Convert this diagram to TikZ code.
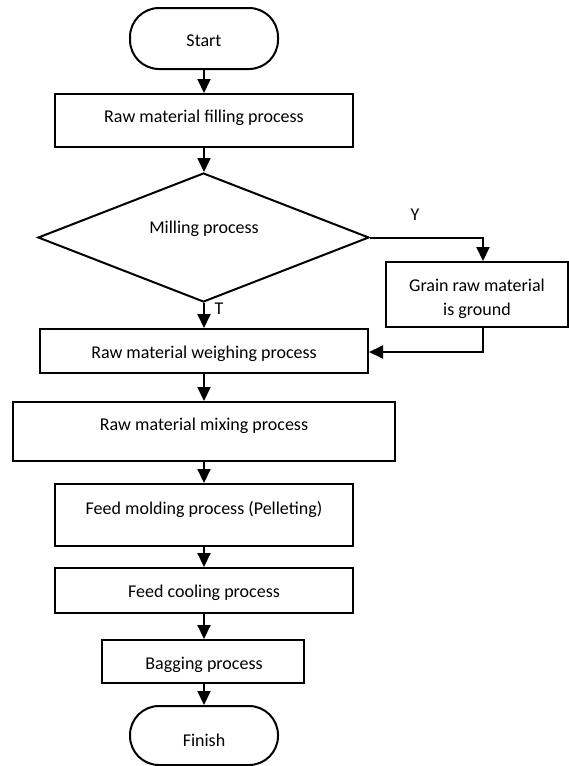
\documentclass[tikz,border=0pt]{standalone}
\usepackage{fontspec}
\setmainfont{Carlito}
\usetikzlibrary{shapes.geometric,arrows.meta}
\begin{document}
\begin{tikzpicture}[x=1pt,y=-1pt,
  box/.style={draw,line width=2pt,rectangle,inner sep=0pt},
  term/.style={draw,line width=2pt,rectangle,rounded corners=29pt,inner sep=0pt,minimum width=148pt},
  dec/.style={draw,line width=2pt,diamond,inner sep=0pt,minimum width=331pt,minimum height=129pt},
  txt/.style={anchor=base,inner sep=0pt,font=\fontsize{18}{22}\selectfont},
  flow/.style={line width=2pt,-{Triangle[length=14pt,width=13pt]}}]
\useasboundingbox (0,0) rectangle (569,766);
% shapes
\node[term,minimum height=61pt] (start) at (204,38.5) {};
\node[box,minimum width=298pt,minimum height=53pt] (fill) at (204,120.5) {};
\node[dec] (mill) at (203.5,237.5) {};
\node[box,minimum width=182pt,minimum height=65pt] (grain) at (477,294.5) {};
\node[box,minimum width=328pt,minimum height=44pt] (weigh) at (204,351) {};
\node[box,minimum width=382pt,minimum height=59pt] (mix) at (204,431.5) {};
\node[box,minimum width=298pt,minimum height=62pt] (mold) at (204,515) {};
\node[box,minimum width=298pt,minimum height=45pt] (cool) at (204,590.5) {};
\node[box,minimum width=202pt,minimum height=43pt] (bag) at (203,661.5) {};
\node[term,minimum height=59pt] (finish) at (204,735.5) {};
% texts
\node[txt] (tstart) at (204,46.7) {Start};
\node[txt] (tfill) at (204,122.7) {Raw material filling process};
\node[txt] (tmill) at (204,233.3) {Milling process};
\node[txt] (tgrain1) at (477,291.7) {Grain raw material};
\node[txt] (tgrain2) at (477,315) {is ground};
\node[txt] (tweigh) at (204,358.3) {Raw material weighing process};
\node[txt] (tmix) at (204,430) {Raw material mixing process};
\node[txt] (tmold) at (204,514.3) {Feed molding process (Pelleting)};
\node[txt] (tcool) at (204,597.7) {Feed cooling process};
\node[txt] (tbag) at (204,669.3) {Bagging process};
\node[txt] (tfinish) at (204,746) {Finish};
\node[txt] (ly) at (415,220) {Y};
\node[txt] (lt) at (219,314) {T};
% connectors
\coordinate (cx) at (204,0);
\draw[flow] (cx |- start.south) -- (cx |- fill.north);
\draw[flow] (cx |- fill.south) -- (cx |- mill.north);
\draw[flow] (cx |- mill.south) -- (cx |- weigh.north);
\draw[flow] (cx |- weigh.south) -- (cx |- mix.north);
\draw[flow] (cx |- mix.south) -- (cx |- mold.north);
\draw[flow] (cx |- mold.south) -- (cx |- cool.north);
\draw[flow] (cx |- cool.south) -- (cx |- bag.north);
\draw[flow] (cx |- bag.south) -- (cx |- finish.north);
\coordinate (gx) at (483,0);
\draw[flow] (mill.east) -- (mill.east -| gx) -- (gx |- grain.north);
\coordinate (wy) at (0,352);
\draw[flow] (gx |- grain.south) -- (gx |- wy) -- (weigh.east |- wy);
\end{tikzpicture}
\end{document}
